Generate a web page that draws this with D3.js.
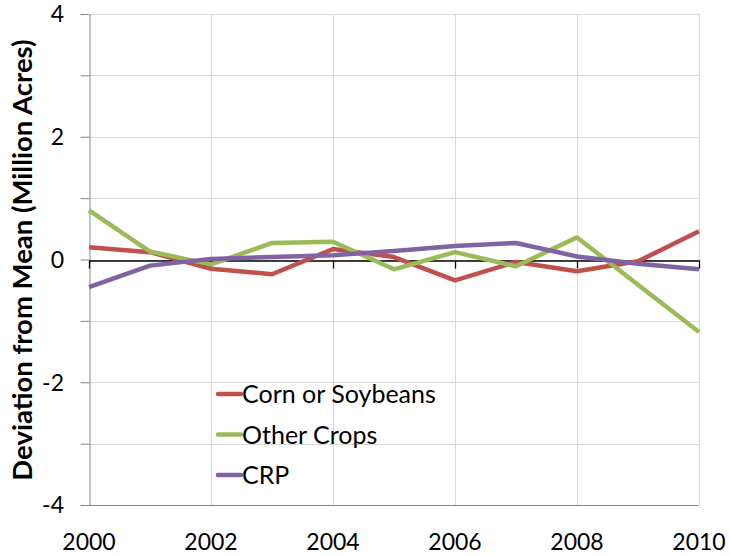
<!DOCTYPE html>
<html>
<head>
<meta charset="utf-8">
<script src="https://cdn.jsdelivr.net/npm/d3@7"></script>
<style>
  body { margin: 0; background: #fff; }
  text { font-family: Lato, "Open Sans", sans-serif; fill: #000; }
</style>
</head>
<body>
<div id="viz"></div>
<script>
const years = [2000, 2001, 2002, 2003, 2004, 2005, 2006, 2007, 2008, 2009, 2010];
const cornSoy = [0.20, 0.12, -0.15, -0.24, 0.17, 0.04, -0.34, -0.04, -0.19, -0.03, 0.46];
const otherCrops = [0.80, 0.13, -0.08, 0.27, 0.29, -0.16, 0.12, -0.11, 0.36, -0.41, -1.18];
const crp = [-0.45, -0.10, 0.01, 0.04, 0.07, 0.14, 0.22, 0.27, 0.05, -0.07, -0.16];
const seriesNames = ["Corn or Soybeans", "Other Crops", "CRP"];
const seriesColors = ["#C0504D", "#9BBB59", "#8064A2"];
const yTicks = [-4, -2, 0, 2, 4];
const xTicks = [2000, 2002, 2004, 2006, 2008, 2010];

const width = 730, height = 556;
const plotL = 89, plotR = 699, plotT = 14, plotB = 505;

const x = d3.scaleLinear().domain([2000, 2010]).range([plotL, plotR]);
const y = d3.scaleLinear().domain([-4, 4]).range([plotB, plotT]);

const svg = d3.select("#viz").append("svg")
    .attr("width", width)
    .attr("height", height);

// gridlines
svg.append("g")
    .attr("stroke", "#D9D9D9")
    .attr("stroke-width", 1)
    .selectAll("line")
    .data(d3.range(-4, 5, 1))
    .enter().append("line")
    .attr("x1", plotL).attr("x2", plotR)
    .attr("y1", d => Math.round(y(d)) + 0.5)
    .attr("y2", d => Math.round(y(d)) + 0.5);

svg.append("g")
    .attr("stroke", "#D9D9D9")
    .attr("stroke-width", 1)
    .selectAll("line")
    .data(xTicks.slice(1))
    .enter().append("line")
    .attr("x1", d => Math.round(x(d)) + 0.5)
    .attr("x2", d => Math.round(x(d)) + 0.5)
    .attr("y1", plotT).attr("y2", plotB);

// y axis
const yAxis = svg.append("g")
    .attr("transform", `translate(${plotL + 0.5},0)`)
    .call(d3.axisLeft(y).tickValues(d3.range(-4, 5, 1)).tickSize(9).tickSizeOuter(0).tickFormat(""));
yAxis.select(".domain").attr("stroke", "#868686");
yAxis.selectAll(".tick line").attr("stroke", "#868686");

svg.append("line")
    .attr("x1", plotL).attr("x2", plotR)
    .attr("y1", plotB + 0.5).attr("y2", plotB + 0.5)
    .attr("stroke", "#868686");

svg.append("g")
    .selectAll("text")
    .data(yTicks)
    .enter().append("text")
    .attr("x", 64)
    .attr("y", d => y(d))
    .attr("dy", "0.36em")
    .attr("text-anchor", "end")
    .attr("font-size", 23)
    .text(d => d);

// zero line with ticks
const zero = svg.append("g")
    .attr("transform", `translate(0,${Math.round(y(0)) + 0.5})`)
    .call(d3.axisBottom(x).tickValues(xTicks).tickSize(8).tickSizeOuter(0).tickFormat(""));
zero.select(".domain").attr("stroke", "#000").attr("stroke-width", 1.3);
zero.selectAll(".tick line").attr("stroke", "#000").attr("stroke-width", 1.3);

// x labels
svg.append("g")
    .selectAll("text")
    .data(xTicks)
    .enter().append("text")
    .attr("x", d => x(d))
    .attr("y", 550)
    .attr("text-anchor", "middle")
    .attr("font-size", 23)
    .text(d => d);

// series
const allSeries = [cornSoy, otherCrops, crp];
const line = d3.line()
    .x((d, i) => x(years[i]))
    .y(d => y(d));

svg.append("g")
    .attr("fill", "none")
    .attr("stroke-width", 4.5)
    .attr("stroke-linejoin", "round")
    .selectAll("path")
    .data(allSeries)
    .enter().append("path")
    .attr("stroke", (d, i) => seriesColors[i])
    .attr("d", line);

// legend
const legend = svg.append("g")
    .selectAll("g")
    .data(seriesNames)
    .enter().append("g")
    .attr("transform", (d, i) => `translate(218,${394 + i * 40.5})`);

legend.append("line")
    .attr("x1", 0).attr("x2", 23)
    .attr("stroke", (d, i) => seriesColors[i])
    .attr("stroke-width", 4.5)
    .attr("stroke-linecap", "round");

legend.append("text")
    .attr("x", 24)
    .attr("dy", "0.36em")
    .attr("font-size", 25)
    .text(d => d);

// y title
svg.append("text")
    .attr("transform", `translate(32,260) rotate(-90)`)
    .attr("text-anchor", "middle")
    .attr("font-size", 27.5)
    .attr("font-weight", "bold")
    .text("Deviation from Mean (Million Acres)");
</script>
</body>
</html>
